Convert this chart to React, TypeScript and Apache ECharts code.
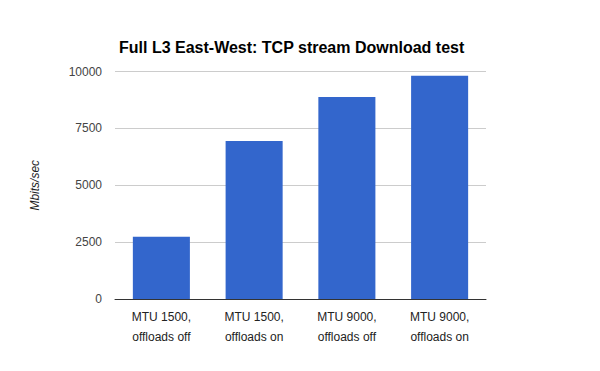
import React, { useEffect, useRef } from "react";
import * as echarts from "echarts";

const titleText = "Full L3 East-West: TCP stream Download test";
const yAxisName = "Mbits/sec";
const categories = ["MTU 1500,\noffloads off", "MTU 1500,\noffloads on", "MTU 9000,\noffloads off", "MTU 9000,\noffloads on"];
const values = [2740, 6950, 8880, 9815];
const yTicks = { min: 0, max: 10000, interval: 2500 };

export default function App() {
  const ref = useRef<HTMLDivElement>(null);
  useEffect(() => {
    const chart = echarts.init(ref.current!, null, { renderer: "svg" });
    chart.setOption({
      animation: false,
      backgroundColor: "#ffffff",
      title: {
        text: titleText,
        left: 114,
        top: 34,
        textStyle: { fontFamily: "Arial, Liberation Sans", fontSize: 16, fontWeight: "bold", color: "#000" },
      },
      grid: { left: 115, right: 114, top: 71.5, bottom: 72 },
      xAxis: {
        type: "category",
        data: categories,
        axisTick: { show: false },
        axisLine: { lineStyle: { color: "#333", width: 1 } },
        axisLabel: {
          color: "#222",
          fontFamily: "Arial, Liberation Sans",
          fontSize: 12,
          lineHeight: 20,
          margin: 8,
        },
      },
      yAxis: {
        type: "value",
        min: yTicks.min,
        max: yTicks.max,
        interval: yTicks.interval,
        name: yAxisName,
        nameLocation: "middle",
        nameGap: 74,
        nameTextStyle: { fontStyle: "italic", fontFamily: "Arial, Liberation Sans", fontSize: 12, color: "#222" },
        axisLine: { show: false },
        axisTick: { show: false },
        splitLine: { lineStyle: { color: "#cccccc", width: 1 } },
        axisLabel: {
          color: "#444",
          fontFamily: "Arial, Liberation Sans",
          fontSize: 12,
          margin: 13,
          formatter: (v: number) => String(v),
        },
      },
      series: [
        {
          type: "bar",
          data: values,
          barWidth: "61.5%",
          itemStyle: { color: "#3366cc" },
        },
      ],
    });
    return () => chart.dispose();
  }, []);
  return <div ref={ref} style={{ width: 600, height: 371, position: "absolute", left: 0, top: 0 }} />;
}
